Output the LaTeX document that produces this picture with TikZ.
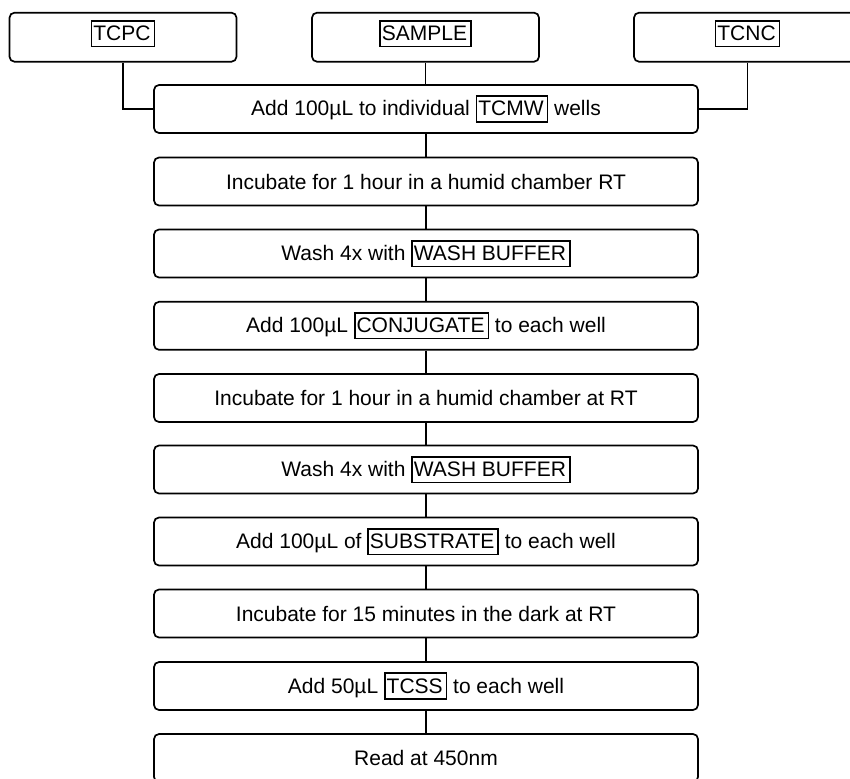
\documentclass[tikz,border=0pt]{standalone}
\usepackage{fontspec}
\setmainfont{Liberation Sans}
\newcommand{\fb}[1]{{\setlength\fboxsep{0pt}\setlength\fboxrule{1.6pt}\fbox{\rule[-5pt]{0pt}{24pt}\kern1pt #1\kern3pt}}}
\begin{document}
\begin{tikzpicture}[x=1pt,y=-1pt,
  every node/.style={font=\fontsize{21}{25}\selectfont},
  stepbox/.style={draw, line width=1.7pt, rounded corners=5pt, minimum width=544pt, minimum height=48pt, inner sep=0pt},
  topbox/.style={draw, line width=1.7pt, rounded corners=5pt, minimum width=227pt, minimum height=49pt, inner sep=0pt},
  txt/.style={inner sep=0pt},
  conn/.style={line width=1.6pt}]
\clip (0,0) rectangle (850,778);
\fill[white] (0,0) rectangle (850,778);
% top boxes
\node[topbox] (tcpc) at (123,37.2) {};
\node[txt] (tcpcT) at (123,33.7) {\fb{TCPC}};
\node[topbox] (sample) at (425.5,37.2) {};
\node[txt] (sampleT) at (425.5,33.7) {\fb{SAMPLE}};
\node[topbox] (tcnc) at (747.5,37.2) {};
\node[txt] (tcncT) at (747.5,33.7) {\fb{TCNC}};
% steps
\node[stepbox] (s1) at (426,109) {Add 100µL to individual \fb{TCMW} wells};
\node[stepbox] (s2) at (426,181.5) {Incubate for 1 hour in a humid chamber RT};
\node[stepbox] (s3) at (426,253.5) {Wash 4x with \fb{WASH BUFFER}};
\node[stepbox] (s4) at (426,325.8) {Add 100µL \fb{CONJUGATE} to each well};
\node[stepbox] (s5) at (426,398) {Incubate for 1 hour in a humid chamber at RT};
\node[stepbox] (s6) at (426,469.5) {Wash 4x with \fb{WASH BUFFER}};
\node[stepbox] (s7) at (426,541.5) {Add 100µL of \fb{SUBSTRATE} to each well};
\node[stepbox] (s8) at (426,613.5) {Incubate for 15 minutes in the dark at RT};
\node[stepbox] (s9) at (426,686) {Add 50µL \fb{TCSS} to each well};
\node[stepbox] (s10) at (426,758) {Read at 450nm};
% connectors
\draw[conn] (tcpc.south) |- (s1.west);
\draw[conn] (tcnc.south) |- (s1.east);
\draw[conn] (sample.south) -- (sample.south |- s1.north);
\foreach \a/\b in {s1/s2,s2/s3,s3/s4,s4/s5,s5/s6,s6/s7,s7/s8,s8/s9,s9/s10}
  \draw[conn] (\a.south) -- (\b.north);
\end{tikzpicture}
\end{document}
